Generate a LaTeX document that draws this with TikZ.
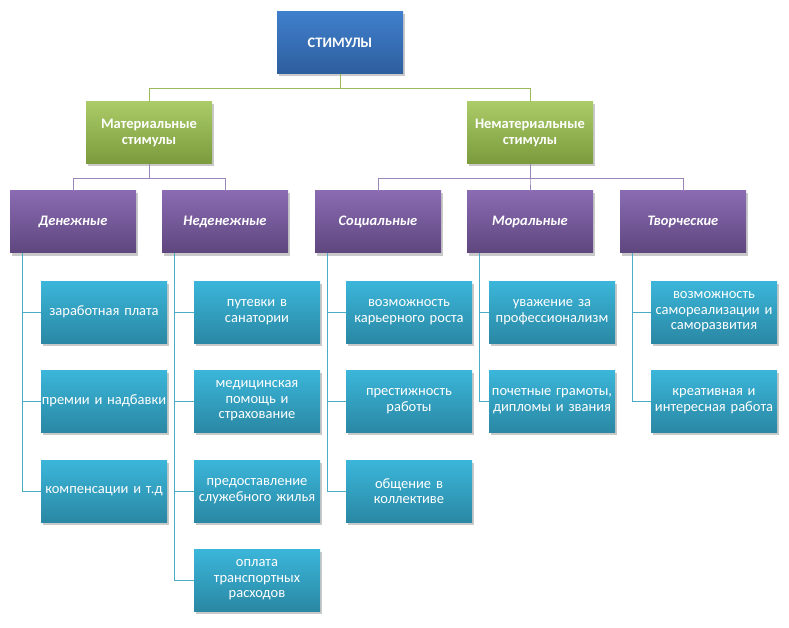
\documentclass[tikz,border=0pt]{standalone}
\usepackage{fontspec}
\setmainfont{Carlito}[WordSpace=0.75]
\usepackage{tikz}
\usetikzlibrary{shadows}

\definecolor{topblueA}{HTML}{3F7FCC}
\definecolor{topblueB}{HTML}{2E5E9E}
\definecolor{greenA}{HTML}{AACB67}
\definecolor{greenB}{HTML}{7A9A3C}
\definecolor{purpleA}{HTML}{8A6BB2}
\definecolor{purpleB}{HTML}{5E467E}
\definecolor{cyanA}{HTML}{3BB6DA}
\definecolor{cyanB}{HTML}{2A88A4}
\definecolor{greenline}{HTML}{9BBB59}
\definecolor{purpleline}{HTML}{9A86B8}
\definecolor{cyanline}{HTML}{4BACC6}

\tikzset{
    box/.style={shape=rectangle, minimum width=126pt, minimum height=62pt,
        text width=126pt, inner sep=0pt, align=center, text=white,
        font=\fontsize{14.5}{15.5}\selectfont,
        drop shadow={shadow xshift=1.5pt, shadow yshift=-2.5pt, opacity=0.3, fill=black!70}},
    rootbox/.style={box, top color=topblueA, bottom color=topblueB, font=\fontsize{14.5}{15.5}\selectfont\bfseries},
    groupbox/.style={box, top color=greenA, bottom color=greenB, font=\fontsize{14.5}{15.5}\selectfont\bfseries},
    kindbox/.style={box, top color=purpleA, bottom color=purpleB, font=\fontsize{14.5}{15.5}\selectfont\bfseries\itshape},
    leafbox/.style={box, top color=cyanA, bottom color=cyanB},
    gline/.style={draw=greenline, line width=0.9pt},
    pline/.style={draw=purpleline, line width=0.9pt},
    cline/.style={draw=cyanline, line width=0.9pt}}

\begin{document}
\begin{tikzpicture}[x=1pt, y=-1pt]

            \useasboundingbox (0,0) rectangle (789,628);

            \node[rootbox] (S) at (340,43) {СТИМУЛЫ};

            \node[groupbox] (M) at (149,133) {Материальные\\стимулы};
            \node[groupbox] (N) at (530,133) {Нематериальные\\стимулы};

            \node[kindbox] (K1) at (73,222) {Денежные};
            \node[kindbox] (K2) at (225,222) {Неденежные};
            \node[kindbox] (K3) at (378,222) {Социальные};
            \node[kindbox] (K4) at (530,222) {Моральные};
            \node[kindbox] (K5) at (683,222) {Творческие};

            \node[leafbox] (L11) at (104,312) {заработная плата};
            \node[leafbox] (L12) at (104,401) {премии и надбавки};
            \node[leafbox] (L13) at (104,491) {компенсации и т.д};

            \node[leafbox] (L21) at (257,312) {путевки в\\санатории};
            \node[leafbox] (L22) at (257,401) {медицинская\\помощь и\\страхование};
            \node[leafbox] (L23) at (257,491) {предоставление\\служебного жилья};
            \node[leafbox] (L24) at (257,580) {оплата\\транспортных\\расходов};

            \node[leafbox] (L31) at (409,312) {возможность\\карьерного роста};
            \node[leafbox] (L32) at (409,401) {престижность\\работы};
            \node[leafbox] (L33) at (409,491) {общение в\\коллективе};

            \node[leafbox] (L41) at (552,312) {уважение за\\профессионализм};
            \node[leafbox] (L42) at (552,401) {почетные грамоты,\\дипломы и звания};

            \node[leafbox] (L51) at (714,312) {возможность\\самореализации и\\саморазвития};
            \node[leafbox] (L52) at (714,401) {креативная и\\интересная работа};

            \draw[gline] (S.south) -- ++(0,14) -| (M.north);
            \draw[gline] (S.south) -- ++(0,14) -| (N.north);

            \draw[pline] (M.south) -- ++(0,14) -| (K1.north);
            \draw[pline] (M.south) -- ++(0,14) -| (K2.north);
            \draw[pline] (N.south) -- ++(0,14) -| (K3.north);
            \draw[pline] (N.south) -- ++(0,14) -| (K4.north);
            \draw[pline] (N.south) -- ++(0,14) -| (K5.north);

            \draw[cline] ([xshift=13pt]K1.south west) |- (L11.west);
            \draw[cline] ([xshift=13pt]K1.south west) |- (L12.west);
            \draw[cline] ([xshift=13pt]K1.south west) |- (L13.west);
            \draw[cline] ([xshift=13pt]K2.south west) |- (L21.west);
            \draw[cline] ([xshift=13pt]K2.south west) |- (L22.west);
            \draw[cline] ([xshift=13pt]K2.south west) |- (L23.west);
            \draw[cline] ([xshift=13pt]K2.south west) |- (L24.west);
            \draw[cline] ([xshift=13pt]K3.south west) |- (L31.west);
            \draw[cline] ([xshift=13pt]K3.south west) |- (L32.west);
            \draw[cline] ([xshift=13pt]K3.south west) |- (L33.west);
            \draw[cline] ([xshift=13pt]K4.south west) |- (L41.west);
            \draw[cline] ([xshift=13pt]K4.south west) |- (L42.west);
            \draw[cline] ([xshift=13pt]K5.south west) |- (L51.west);
            \draw[cline] ([xshift=13pt]K5.south west) |- (L52.west);

        \end{tikzpicture}
\end{document}
